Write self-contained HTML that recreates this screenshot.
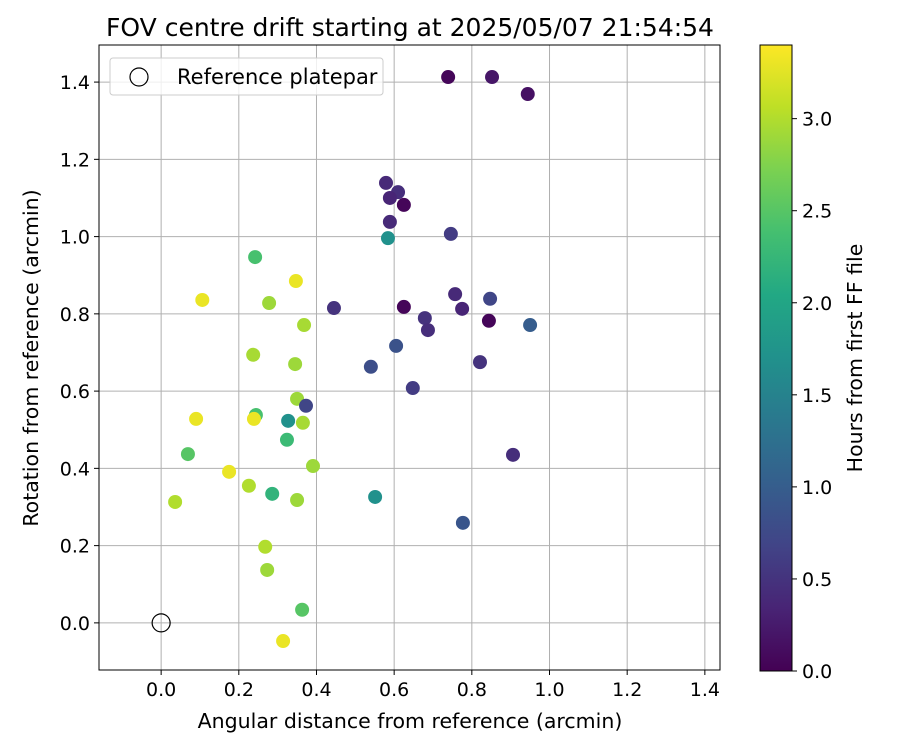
<!DOCTYPE html>
<html><head><meta charset="utf-8">
<style>
body{margin:0;background:#fff;font-family:"Liberation Sans","DejaVu Sans",sans-serif;}
svg text{font-family:"DejaVu Sans","Liberation Sans",sans-serif;}
</style></head>
<body>
<svg id="chart" width="900" height="750" xmlns="http://www.w3.org/2000/svg">
<defs>
<linearGradient id="vir" x1="0" y1="1" x2="0" y2="0">
<stop offset="0" stop-color="#440154"/><stop offset="0.1" stop-color="#482475"/><stop offset="0.2" stop-color="#414487"/><stop offset="0.3" stop-color="#355f8d"/><stop offset="0.4" stop-color="#2a788e"/><stop offset="0.5" stop-color="#21918c"/><stop offset="0.6" stop-color="#22a884"/><stop offset="0.7" stop-color="#44bf70"/><stop offset="0.8" stop-color="#7ad151"/><stop offset="0.9" stop-color="#bddf26"/><stop offset="1" stop-color="#fde725"/>
</linearGradient>
</defs>
<text x="410" y="36" font-size="25" text-anchor="middle">FOV centre drift starting at 2025/05/07 21:54:54</text>
<g id="grid"></g>
<g id="points"></g>
<rect x="99" y="45" width="621" height="625" fill="none" stroke="#000" stroke-width="1"/>
<g id="ticks"></g>
<text x="410" y="728" font-size="20.5" text-anchor="middle">Angular distance from reference (arcmin)</text>
<text transform="translate(38,358) rotate(-90)" font-size="20.5" text-anchor="middle">Rotation from reference (arcmin)</text>
<g>
<rect x="110" y="58" width="273" height="37" rx="3" fill="#fff" fill-opacity="0.8" stroke="#ccc"/>
<circle cx="139" cy="77" r="9" fill="none" stroke="#000" stroke-width="1.2"/>
<text x="177" y="84" font-size="21">Reference platepar</text>
</g>
<rect x="760" y="45" width="32" height="626" fill="url(#vir)" stroke="#000" stroke-width="1"/>
<g id="cbticks"></g>
<text transform="translate(862,358) rotate(-90)" font-size="20.5" text-anchor="middle">Hours from first FF file</text>
</svg>
<script>
const xVals=[0.739,0.852,0.944,0.579,0.610,0.589,0.625,0.589,0.746,0.584,0.242,0.347,0.106,0.278,0.757,0.847,0.445,0.625,0.775,0.844,0.679,0.687,0.950,0.368,0.605,0.237,0.345,0.540,0.821,0.648,0.350,0.373,0.244,0.090,0.239,0.365,0.327,0.324,0.069,0.906,0.391,0.175,0.226,0.286,0.551,0.036,0.350,0.777,0.268,0.273,0.363,0.314];
const yVals=[1.413,1.413,1.369,1.139,1.115,1.100,1.082,1.038,1.007,0.996,0.947,0.885,0.836,0.828,0.851,0.839,0.815,0.818,0.813,0.782,0.789,0.758,0.771,0.771,0.717,0.694,0.670,0.663,0.675,0.608,0.580,0.562,0.538,0.528,0.528,0.518,0.523,0.474,0.437,0.435,0.406,0.391,0.355,0.334,0.326,0.313,0.318,0.259,0.197,0.137,0.034,-0.047];
const hours=[0.05,0.2,0.15,0.4,0.45,0.35,0.05,0.4,0.6,1.7,2.4,3.3,3.3,2.9,0.4,0.7,0.5,0.05,0.35,0.05,0.5,0.45,1.0,2.95,0.85,2.95,2.9,0.8,0.5,0.6,2.9,0.7,2.4,3.3,3.3,2.95,1.7,2.3,2.5,0.45,2.9,3.3,3.0,2.2,1.7,3.0,2.9,0.9,3.0,2.9,2.5,3.3];
const xTicks=[0.0,0.2,0.4,0.6,0.8,1.0,1.2,1.4];
const yTicks=[0.0,0.2,0.4,0.6,0.8,1.0,1.2,1.4];
const cTicks=[0.0,0.5,1.0,1.5,2.0,2.5,3.0];
const X0=99,X1=720,Y0=45,Y1=670,xmin=-0.16,xmax=1.439,ymin=-0.122,ymax=1.496,cmin=0,cmax=3.4;
const sx=v=>X0+(v-xmin)/(xmax-xmin)*(X1-X0);
const sy=v=>Y1-(v-ymin)/(ymax-ymin)*(Y1-Y0);
const sc=v=>671-(v-cmin)/(cmax-cmin)*626;
const vir=["#440154","#482475","#414487","#355f8d","#2a788e","#21918c","#22a884","#44bf70","#7ad151","#bddf26","#fde725"];
function hex(h){return [1,3,5].map(i=>parseInt(h.substr(i,2),16));}
function cmap(t){t=Math.max(0,Math.min(1,t))*10;const i=Math.min(9,Math.floor(t)),f=t-i;const a=hex(vir[i]),b=hex(vir[i+1]);return `rgb(${a.map((v,k)=>Math.round(v+(b[k]-v)*f)).join(",")})`;}
const NS="http://www.w3.org/2000/svg";
function mk(tag,attrs,parent){const e=document.createElementNS(NS,tag);for(const k in attrs)e.setAttribute(k,attrs[k]);parent.appendChild(e);return e;}
const grid=document.getElementById('grid'),ticks=document.getElementById('ticks'),pts=document.getElementById('points'),cb=document.getElementById('cbticks');
xTicks.forEach(v=>{const x=sx(v);
const g=mk('line',{x1:x,x2:x,y1:Y0,y2:Y1,stroke:'#b0b0b0','stroke-width':1},grid);


mk('line',{x1:x,x2:x,y1:Y1,y2:Y1+5,stroke:'#000'},ticks);
const t=mk('text',{x:x,y:Y1+26,'font-size':19,'text-anchor':'middle'},ticks);t.textContent=v.toFixed(1);

});
yTicks.forEach(v=>{const y=sy(v);
const g=mk('line',{x1:X0,x2:X1,y1:y,y2:y,stroke:'#b0b0b0','stroke-width':1},grid);


mk('line',{x1:X0-5,x2:X0,y1:y,y2:y,stroke:'#000'},ticks);
const t=mk('text',{x:X0-9,y:y+7,'font-size':19,'text-anchor':'end'},ticks);t.textContent=v.toFixed(1);

});
xVals.forEach((v,i)=>{const c=mk('circle',{cx:sx(v),cy:sy(yVals[i]),r:7,fill:cmap((hours[i]-cmin)/(cmax-cmin))},pts);

});
const ref=mk('circle',{cx:sx(0),cy:sy(0),r:9,fill:'none',stroke:'#000','stroke-width':1.2},pts);


cTicks.forEach(v=>{const y=sc(v);
mk('line',{x1:792,x2:797,y1:y,y2:y,stroke:'#000'},cb);
const t=mk('text',{x:802,y:y+7,'font-size':19},cb);t.textContent=v.toFixed(1);

});
</script>
</body></html>
